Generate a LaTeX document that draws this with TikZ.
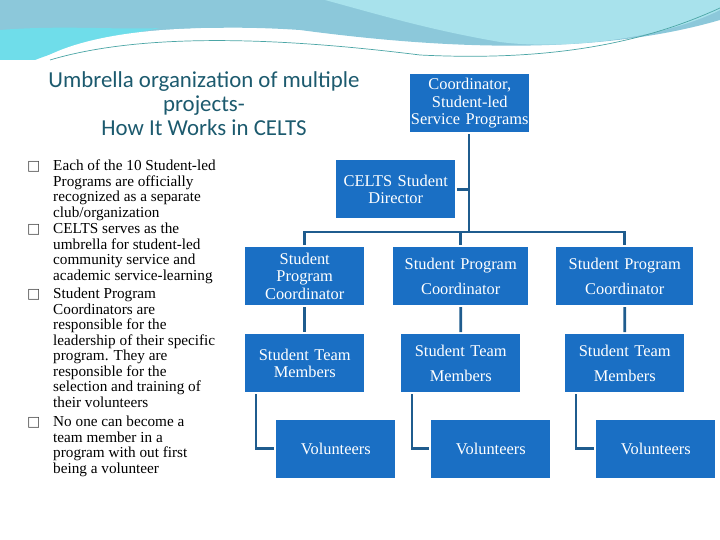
\documentclass[tikz,border=0pt]{standalone}
\usepackage{fontspec}
\setmainfont{Liberation Serif}
\newfontfamily\titlefont{Carlito}
\newfontfamily\symfont{DejaVu Sans}
\definecolor{boxblue}{HTML}{1A6FC4}
\definecolor{linkblue}{HTML}{1F5C8E}
\definecolor{titleteal}{HTML}{1C5A6E}
\definecolor{waveA}{HTML}{8CC8DA}
\definecolor{waveB}{HTML}{6FDDEA}
\definecolor{waveC}{HTML}{A8E2EC}
\tikzset{
  orgbox/.style={fill=boxblue, text=white, align=center, inner sep=0pt,
    font=\fontsize{14}{15}\selectfont, anchor=north west, minimum height=1.74cm},
  widebox/.style={orgbox, font=\fontsize{14}{21}\selectfont},
  link/.style={draw=linkblue, line width=2.2pt},
  bullettext/.style={anchor=north west, align=left, inner sep=0pt,
    font=\fontsize{13}{13.2}\selectfont},
  bulletmark/.style={anchor=north west, inner sep=0pt, font=\symfont\fontsize{12}{12}\selectfont, text=black!70}
}
\begin{document}
\begin{tikzpicture}[x=0.03cm, y=-0.03cm]
\useasboundingbox (0,0) rectangle (720,540);
% fondo
\fill[waveA] (0,0) -- (720,0) -- (720,20) .. controls (600,55) and (450,50) .. (300,30) .. controls (150,20) and (60,45) .. (30,60) -- (0,60) -- cycle;
\fill[waveB] (0,30) .. controls (60,25) and (120,30) .. (160,28) .. controls (100,40) and (60,50) .. (35,60) -- (0,60) -- cycle;
\fill[white] (40,60) .. controls (90,30) and (200,20) .. (330,35) .. controls (450,48) and (560,58) .. (720,40) -- (720,60) -- cycle;
\fill[waveC] (325,0) -- (720,0) -- (720,10) .. controls (660,40) and (560,50) .. (500,42) .. controls (430,30) and (380,15) .. (325,0) -- cycle;
\draw[teal!70, line width=0.6pt] (50,60) .. controls (150,30) and (300,40) .. (420,55) .. controls (560,62) and (650,40) .. (720,8);
% titulo
\node[text=titleteal, align=center, font=\titlefont\fontsize{19.5}{20.5}\selectfont] (title) at (204,104)
  {Umbrella organization of multiple\\projects-\\How It Works in CELTS};
% vinetas
\foreach \y/\txt [count=\i] in {
  160/{Each of the 10 Student-led\\Programs are officially\\recognized as a separate\\club/organization},
  223/{CELTS serves as the\\umbrella for student-led\\community service and\\academic service-learning},
  288/{Student Program\\Coordinators are\\responsible for the\\leadership of their specific\\program.  They are\\responsible for the\\selection and training of\\their volunteers},
  416/{No one can become a\\team member in a\\program with out first\\being a volunteer}}{
  \node[bulletmark] (mark\i) at (27,\y+1) {□};
  \node[bullettext] (bullet\i) at (53,\y) {\txt};
}
% cajas
\node[orgbox, text width=3.57cm] (top) at (410,74) {Coordinator,\\Student-led\\Service Programs};
\node[orgbox, text width=3.57cm] (director) at (336,160) {CELTS Student\\Director};
\node[orgbox, text width=3.57cm] (coordA) at (245,247) {Student\\Program\\Coordinator};
\node[widebox, text width=4.05cm] (coordB) at (393,247) {Student Program\\Coordinator};
\node[widebox, text width=4.11cm] (coordC) at (556,247) {Student Program\\Coordinator};
\node[orgbox, text width=3.57cm] (teamA) at (245,334) {Student Team\\Members};
\node[widebox, text width=3.57cm] (teamB) at (401,334) {Student Team\\Members};
\node[widebox, text width=3.57cm] (teamC) at (565,334) {Student Team\\Members};
\node[orgbox, text width=3.57cm] (volA) at (276,420) {Volunteers};
\node[orgbox, text width=3.57cm] (volB) at (431,420) {Volunteers};
\node[orgbox, text width=3.57cm] (volC) at (596,420) {Volunteers};
% conexiones
\coordinate (hub) at (469,232);
\draw[link] ([yshift=-1.5pt]top.south -| hub) -- (hub);
\draw[link] ([xshift=1.5pt]director.east) -- (director.east -| hub);
\draw[link] ([yshift=1.5pt]coordA.north) |- (hub) -| ([yshift=1.5pt]coordC.north);
\draw[link] (hub -| coordB.north) -- ([yshift=1.5pt]coordB.north);
\foreach \n in {A,B,C}{
  \draw[link] ([yshift=-1.5pt]coord\n.south) -- ([yshift=1.5pt]team\n.north);
  \coordinate (e\n) at ([xshift=0.33cm, yshift=-1.5pt]team\n.south west);
  \coordinate (v\n) at ([xshift=-1.5pt, yshift=-0.85cm]vol\n.north west);
  \draw[link] (e\n) |- (v\n);
}
\end{tikzpicture}
\end{document}
